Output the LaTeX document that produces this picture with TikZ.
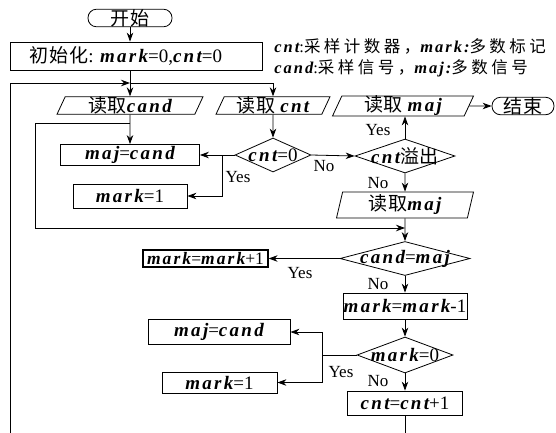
\documentclass[tikz,border=0pt]{standalone}
\usepackage{fontspec}
\setmainfont{Liberation Serif}
\newfontfamily\cjk{Noto Sans CJK SC}[LetterSpace=4]
\newfontfamily\cjkw{Noto Sans CJK SC}[LetterSpace=21]
\newfontfamily\vfont{Liberation Serif}[LetterSpace=12]
\usetikzlibrary{shapes.geometric,arrows.meta}
\newcommand\zh[1]{{\cjk #1}}
\newcommand\zw[1]{{\cjkw #1}}
\newcommand\vb[1]{{\vfont\bfseries\itshape #1}}
\begin{document}
\begin{tikzpicture}[x=1pt,y=-1pt,
  font=\fontsize{19}{21}\selectfont,
  line width=0.8pt,
  >={Stealth[length=9pt,width=6.5pt]},
  box/.style={draw, rectangle, inner sep=0pt},
  term/.style={draw, rectangle, rounded corners=8.5pt, inner sep=0pt},
  io/.style={draw, trapezium, trapezium left angle=65, trapezium right angle=115, trapezium stretches body, inner sep=0pt},
  iob/.style={draw, trapezium, trapezium left angle=73, trapezium right angle=107, trapezium stretches body, inner sep=0pt},
  dia/.style={draw, diamond, inner sep=0pt},
  lbl/.style={inner sep=0pt, font=\fontsize{17}{19}\selectfont},
  leg/.style={anchor=west, inner sep=0pt, font=\fontsize{16.5}{18}\selectfont}]
\useasboundingbox (0,0) rectangle (556,432);
% top
\node[term, minimum width=84, minimum height=17] (start) at (130,18) {\zh{开始}};
\node[box, minimum width=252, minimum height=28] (init) at (136,56) {\zh{初始化}: \vb{mark}=0,\vb{cnt}=0\kern20pt};
\node[leg] (leg1) at (274,46) {\vb{cnt}:\zw{采样计数器，}\vb{mark:}\zw{多数标记}};
\node[leg] (leg2) at (274,68) {\vb{cand}:\zw{采样信号，}\vb{maj:}\zw{多数信号}};
% reads
\node[io, minimum width=146, minimum height=17] (rcand) at (130,105.5) {\zh{读取}\vb{cand}};
\node[io, minimum width=114, minimum height=17] (rcnt) at (273,105.5) {\zh{读取} \vb{cnt}};
\node[io, minimum width=141, minimum height=17] (rmaj) at (403,106) {\zh{读取} \vb{maj}};
\node[term, minimum width=62, minimum height=17] (end) at (523,106) {\zh{结束}};
% row 2
\node[box, minimum width=139, minimum height=21] (maj1) at (130,155) {\vb{maj}=\vb{cand}};
\node[dia, minimum width=76, minimum height=34] (c0) at (273,155) {};
\node[inner sep=0pt] (c0t) at (c0) {\vb{cnt}=0};
\node[dia, minimum width=100, minimum height=34] (ovf) at (405,156) {};
\node[inner sep=0pt] (ovft) at (ovf) {\vb{cnt}\zh{溢出}};
\node[box, minimum width=114, minimum height=24] (mk1) at (130,196) {\vb{mark}=1};
\node[iob, minimum width=137, minimum height=26] (rmaj2) at (405,205) {\zh{读取}\vb{maj}};
% compare
\node[dia, minimum width=130, minimum height=34] (ceq) at (405,258.5) {};
\node[inner sep=0pt] (ceqt) at (ceq) {\vb{cand}=\vb{maj}};
\node[box, line width=1.2pt, minimum width=125, minimum height=17, font=\fontsize{17.5}{19}\selectfont] (mp1) at (205.5,258.5) {\vb{mark}=\vb{mark}+1};
\node[box, minimum width=124, minimum height=26] (mm1) at (405,306) {\vb{mark}=\vb{mark}-1};
\node[dia, minimum width=96, minimum height=36] (m0) at (405,355) {};
\node[inner sep=0pt] (m0t) at (m0) {\vb{mark}=0};
\node[box, minimum width=142, minimum height=25] (maj2) at (219,332) {\vb{maj}=\vb{cand}};
\node[box, minimum width=115, minimum height=21] (mk2) at (219.5,382.5) {\vb{mark}=1};
\node[box, minimum width=115, minimum height=24] (cp1) at (405,403) {\vb{cnt}=\vb{cnt}+1};
% labels
\node[lbl] (yes1) at (238,177) {Yes};
\node[lbl] (no1) at (324,166) {No};
\node[lbl] (yes2) at (378,130) {Yes};
\node[lbl] (no2) at (378,183) {No};
\node[lbl] (yes3) at (300,273) {Yes};
\node[lbl] (no3) at (378,284) {No};
\node[lbl] (yes4) at (341,372) {Yes};
\node[lbl] (no4) at (378,381) {No};
% coordinates
\coordinate (j1) at (130,83);
\coordinate (tl) at (10,83);
\coordinate (bl) at (10,436);
\coordinate (j2) at (130,123);
\coordinate (il) at (35,228);
\coordinate (j3) at (405,228);
\coordinate (yb1) at (222,155);
\coordinate (yb2) at (322,355);
% connectors
\draw[->] (start.south) -- (start.south |- init.north);
\draw[->] (init.south -| rcand.north) -- (rcand.north);
\draw[->] (tl) -- (j1);
\draw[->] (j1) -| (rcnt.north);
\draw[->] (rcand.south) -- (maj1.north);
\draw[->] (rcnt.south) -- (c0.north);
\draw[->] (c0.west) -- (maj1.east);
\draw[->] (yb1) |- (mk1.east);
\draw[->] (c0.east) -- (ovf.west);
\draw[->] (ovf.north) -- (ovf.north |- rmaj.south);
\draw[->] (rmaj.east) -- (end.west);
\draw[->] (ovf.south) -- (rmaj2.north);
\draw[->] (j2) -| (il) -- (j3);
\draw[->] (rmaj2.south) -- (ceq.north);
\draw[->] (ceq.west) -- (mp1.east);
\draw[->] (ceq.south) -- (mm1.north);
\draw[->] (mm1.south) -- (m0.north);
\draw (m0.west) -- (yb2);
\draw[->] (yb2) |- (maj2.east);
\draw[->] (yb2) |- (mk2.east);
\draw[->] (m0.south) -- (cp1.north);
\draw (cp1.south) |- (bl) -- (tl);
\end{tikzpicture}
\end{document}
